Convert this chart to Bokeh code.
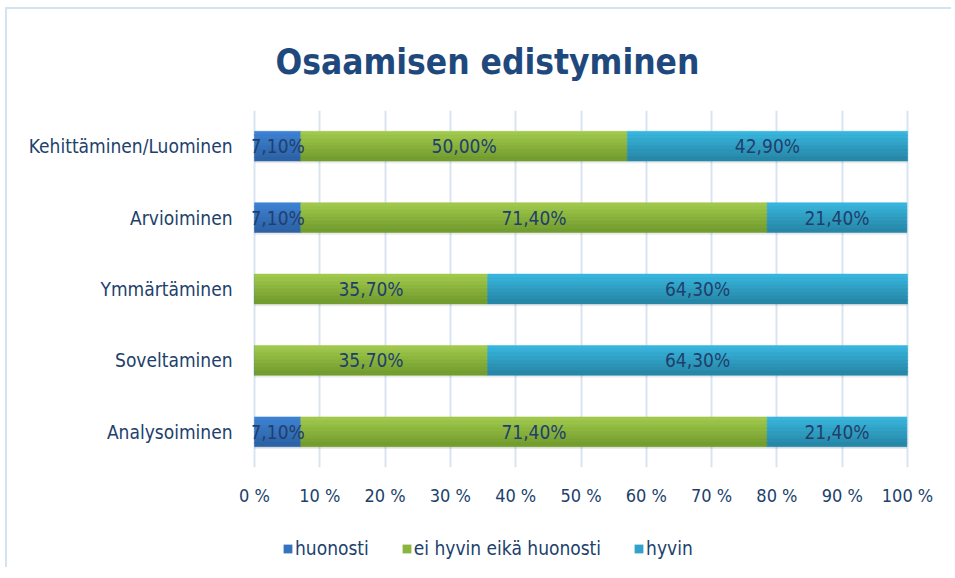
from bokeh.plotting import figure
from bokeh.models import (ColumnDataSource, FactorRange, Range1d, FixedTicker, Legend, LegendItem)
from bokeh.layouts import column
from bokeh.transform import dodge
from bokeh.core.properties import value
from bokeh.embed import file_html
from bokeh.resources import INLINE

categories = ["Kehittäminen/Luominen", "Arvioiminen", "Ymmärtäminen", "Soveltaminen", "Analysoiminen"]
huonosti = [7.1, 7.1, 0.0, 0.0, 7.1]
ei_hyvin = [50.0, 71.4, 35.7, 35.7, 71.4]
hyvin = [42.9, 21.4, 64.3, 64.3, 21.4]
series_names = ["huonosti", "ei hyvin eikä huonosti", "hyvin"]
tick_values = [0, 10, 20, 30, 40, 50, 60, 70, 80, 90, 100]
tick_labels = [f"{v} %" for v in tick_values]

FONT = "DejaVu Sans Condensed"
TXT = "#213F6C"
top_colors = ["#3E80D2", "#A0C84C", "#38B5DC"]
bot_colors = ["#2C63A6", "#739D2E", "#2787A8"]
mid_colors = ["#3573BD", "#8AB53E", "#30A3CA"]

W, H, HL = 944, 508, 50
p = figure(width=W, height=H, output_backend="svg", toolbar_location=None,
           y_range=FactorRange(*categories[::-1]), x_range=Range1d(-0.3, 100.3),
           min_border_left=245, min_border_right=42, min_border_top=101, min_border_bottom=50)
p.outline_line_color = None
p.background_fill_color = "white"
p.border_fill_color = "white"

series = [huonosti, ei_hyvin, hyvin]
starts, ends = [], []
acc = [0.0] * len(categories)
for s in series:
    starts.append(list(acc))
    acc = [a + v for a, v in zip(acc, s)]
    ends.append(list(acc))

BAR_H = 0.41
shadow_src = ColumnDataSource(dict(cat=categories, left=[0] * 5, right=acc))
p.hbar(y=dodge("cat", -0.035, range=p.y_range), left="left", right="right", height=BAR_H,
       source=shadow_src, fill_color="#000000", fill_alpha=0.08, line_color=None)


def hx(c):
    return tuple(int(c[k:k + 2], 16) for k in (1, 3, 5))


NB = 8
for i, name in enumerate(series_names):
    src = ColumnDataSource(dict(cat=categories, left=starts[i], right=ends[i]))
    t, b = hx(top_colors[i]), hx(bot_colors[i])
    for k in range(NB):
        f = k / (NB - 1)
        col = "#%02x%02x%02x" % tuple(int(round(t[j] + (b[j] - t[j]) * f)) for j in range(3))
        off = BAR_H / 2 - BAR_H / NB * (k + 0.5)
        p.hbar(y=dodge("cat", off, range=p.y_range), left="left", right="right",
               height=BAR_H / NB + 0.008, source=src, fill_color=col, line_color=col, line_width=0.5)

lab_cat, lab_x, lab_t = [], [], []
for i, s in enumerate(series):
    for c, st, v in zip(categories, starts[i], s):
        if v > 0:
            lab_cat.append(c)
            lab_x.append(st + v / 2)
            lab_t.append(f"{v:.2f}".replace(".", ",") + "%")
lab_src = ColumnDataSource(dict(cat=lab_cat, x=lab_x, t=lab_t))
p.text(x="x", y="cat", text="t", source=lab_src, text_align="center", text_baseline="middle",
       text_font=value(FONT), text_font_size="19px", text_color=TXT)

p.xaxis.ticker = FixedTicker(ticks=tick_values)
p.xaxis.major_label_overrides = {v: l for v, l in zip(tick_values, tick_labels)}
for ax in (p.xaxis[0], p.yaxis[0]):
    ax.axis_line_color = None
    ax.major_tick_line_color = None
    ax.minor_tick_line_color = None
    ax.major_label_text_font = FONT
    ax.major_label_text_font_size = "19px"
    ax.major_label_text_color = TXT
p.xaxis.major_label_text_font_size = "18px"
p.xaxis.major_label_standoff = 11
p.yaxis.major_label_standoff = 14

p.xgrid.grid_line_color = "#D9E4F1"
p.xgrid.grid_line_width = 2
p.ygrid.grid_line_color = None

p.title.text = "Osaamisen edistyminen"
p.title.align = "left"
p.title.offset = 23
p.title.text_font = FONT
p.title.text_font_style = "bold"
p.title.text_font_size = "35px"
p.title.text_color = "#1F497D"
p.title.standoff = 58

# legend strip
pl = figure(width=W, height=HL, output_backend="svg", toolbar_location=None,
            x_range=Range1d(0, 1), y_range=Range1d(0, 1),
            min_border_left=0, min_border_right=0, min_border_top=0, min_border_bottom=0)
pl.axis.visible = False
pl.grid.visible = False
pl.outline_line_color = None
leg_renderers = []
for i, name in enumerate(series_names):
    r = pl.hbar(y=[0.5], left=[0], right=[0], height=0, fill_color=mid_colors[i], line_color=None)
    leg_renderers.append(r)
legend = Legend(items=[LegendItem(label=n, renderers=[r]) for n, r in zip(series_names, leg_renderers)],
                orientation="horizontal", location=(30, 8), border_line_color=None,
                background_fill_alpha=0, padding=0, margin=0, spacing=32,
                glyph_width=11, glyph_height=11, label_standoff=2,
                label_text_font=FONT, label_text_font_size="19px", label_text_color=TXT)
pl.add_layout(legend, "center")

page = column(p, pl, spacing=0)
page.styles = {"border-top": "2px solid #D5E2F0", "border-left": "2px solid #D5E2F0",
               "margin-left": "5px", "margin-top": "7px"}

open("out.html", "w").write(file_html(page, INLINE))
